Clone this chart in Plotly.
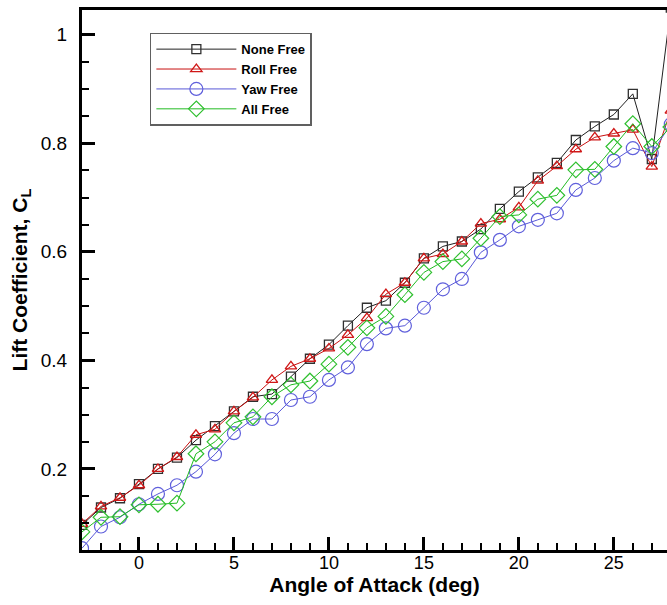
import plotly.graph_objects as go

alpha = list(range(-3, 29))
none_free = [0.097, 0.129, 0.146, 0.172, 0.200, 0.221, 0.253, 0.279, 0.306, 0.333, 0.338, 0.370,
             0.403, 0.429, 0.464, 0.497, 0.510, 0.543, 0.588, 0.610, 0.619, 0.642, 0.679, 0.711,
             0.737, 0.764, 0.806, 0.831, 0.853, 0.891, 0.771, 1.05]
roll_free = [0.099, 0.131, 0.147, 0.170, 0.200, 0.222, 0.263, 0.273, 0.306, 0.332, 0.364, 0.389,
             0.403, 0.422, 0.447, 0.478, 0.522, 0.543, 0.588, 0.596, 0.619, 0.652, 0.660, 0.682,
             0.731, 0.758, 0.789, 0.811, 0.818, 0.825, 0.757, 0.86]
yaw_free = [0.054, 0.094, 0.111, 0.135, 0.154, 0.170, 0.195, 0.227, 0.266, 0.292, 0.292, 0.327,
            0.333, 0.364, 0.387, 0.430, 0.459, 0.464, 0.497, 0.531, 0.550, 0.599, 0.622, 0.647,
            0.659, 0.671, 0.714, 0.736, 0.768, 0.791, 0.782, 0.835]
all_free = [0.084, 0.111, 0.112, 0.134, 0.135, 0.137, 0.228, 0.250, 0.285, 0.296, 0.333, 0.355,
            0.362, 0.393, 0.424, 0.460, 0.481, 0.521, 0.562, 0.582, 0.587, 0.625, 0.665, 0.668,
            0.697, 0.704, 0.751, 0.752, 0.794, 0.836, 0.794, 0.83]

series_names = ["None Free", "Roll Free", "Yaw Free", "All Free"]
x_ticks = [0, 5, 10, 15, 20, 25]
y_ticks = [0.2, 0.4, 0.6, 0.8, 1.0]
y_tick_text = ["0.2", "0.4", "0.6", "0.8", "1"]

styles = [
    dict(line=dict(color="#202020", width=1),
         marker=dict(symbol="square-open", size=9, color="#303030", line=dict(width=1.3))),
    dict(line=dict(color="#c81010", width=1),
         marker=dict(symbol="triangle-up-open", size=10, color="#d01818", line=dict(width=1.3))),
    dict(line=dict(color="#5858d8", width=1),
         marker=dict(symbol="circle-open", size=13, color="#6060dc", line=dict(width=1.2))),
    dict(line=dict(color="#22bb22", width=1),
         marker=dict(symbol="diamond-open", size=12, color="#30c030", line=dict(width=1.2))),
]

fig = go.Figure()
for name, ys, st in zip(series_names, [none_free, roll_free, yaw_free, all_free], styles):
    fig.add_trace(go.Scatter(x=alpha, y=ys, name=name, mode="lines+markers",
                             line=st["line"], marker=st["marker"], cliponaxis=True))

font_family = "Liberation Sans, Arial, sans-serif"
fig.update_layout(
    width=667, height=605,
    margin=dict(l=82, r=0, t=10, b=55),
    paper_bgcolor="white", plot_bgcolor="white",
    font=dict(family=font_family, color="black"),
    showlegend=True,
    legend=dict(x=0.116, y=0.958, xanchor="left", yanchor="top",
                bgcolor="white", bordercolor="#606060", borderwidth=1.5,
                font=dict(size=13, family="Liberation Sans, Arial", weight="bold"),
                tracegroupgap=0, itemwidth=80),
    xaxis=dict(range=[-3, 27.8], showgrid=False, zeroline=False,
               showline=True, linecolor="black", linewidth=3, mirror=True,
               tickmode="array", tickvals=x_ticks,
               ticks="inside", ticklen=13, tickwidth=3, tickcolor="black",
               tickfont=dict(size=18), ticklabelstandoff=-6,
               minor=dict(dtick=1, tick0=0, ticks="inside", ticklen=7, tickwidth=1.5, tickcolor="black"),
               title=dict(text="<b>Angle of Attack (deg)</b>", font=dict(size=21), standoff=0),
               automargin=False),
    yaxis=dict(range=[0.0507, 1.0455], showgrid=False, zeroline=False,
               showline=True, linecolor="black", linewidth=3,
               tickmode="array", tickvals=y_ticks, ticktext=y_tick_text,
               ticks="inside", ticklen=13, tickwidth=3, tickcolor="black",
               tickfont=dict(size=19), ticklabelstandoff=8,
               minor=dict(dtick=0.05, tick0=0, ticks="inside", ticklen=7, tickwidth=1.5, tickcolor="black"),
               title=dict(text="<b>Lift Coefficient, C<sub>L</sub></b>", font=dict(size=21), standoff=8),
               automargin=False),
)

fig.write_html("out.html", config={"displayModeBar": False},
               post_script="document.body.style.margin='0';document.body.style.overflow='hidden';")
